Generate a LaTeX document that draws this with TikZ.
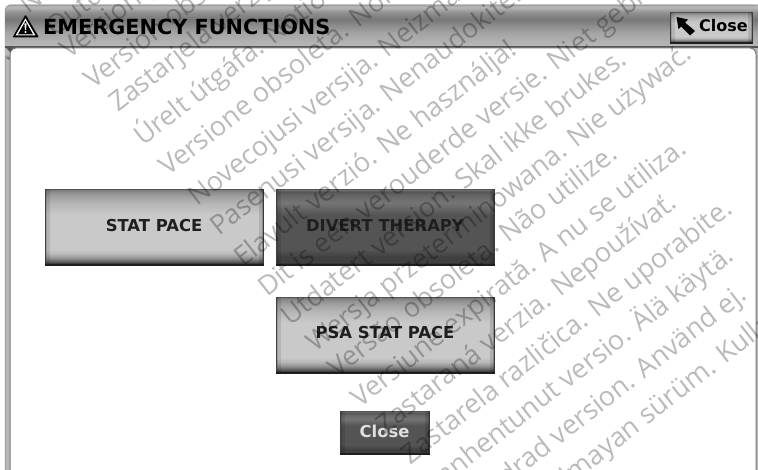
\documentclass[tikz,border=0pt]{standalone}
\usepackage{fontspec}
\setmainfont{DejaVu Sans}
\newfontfamily\wmfont{Open Sans}
\usetikzlibrary{arrows.meta}
\definecolor{ga}{gray}{0.12}
\definecolor{gb}{gray}{0.33}
\definecolor{gc}{gray}{0.47}
\definecolor{gd}{gray}{0.56}
\definecolor{ge}{gray}{0.64}
\definecolor{gf}{gray}{0.72}
\definecolor{gg}{gray}{0.79}
\definecolor{gh}{gray}{0.83}
\definecolor{da}{gray}{0.16}
\definecolor{db}{gray}{0.25}
\definecolor{dc}{gray}{0.33}
\definecolor{dd}{gray}{0.40}
\definecolor{de}{gray}{0.46}
\pgfdeclareverticalshading{btnlight}{100bp}{color(0bp)=(ga);color(25bp)=(ga);color(26.5bp)=(gb);color(29bp)=(gd);color(32bp)=(gf);color(35bp)=(gg);color(58bp)=(gg);color(65bp)=(gf);color(70bp)=(ge);color(73bp)=(gd);color(75bp)=(gc);color(100bp)=(gc)}
\pgfdeclareverticalshading{btndark}{100bp}{color(0bp)=(da);color(25bp)=(da);color(26.5bp)=(db);color(30bp)=(db);color(35bp)=(dc);color(58bp)=(dc);color(66bp)=(de);color(71bp)=(dd);color(73.5bp)=(dc);color(75bp)=(gc);color(100bp)=(gc)}
\pgfdeclareverticalshading{titlebar}{100bp}{color(0bp)=(gb);color(25bp)=(gb);color(27bp)=(gc);color(30bp)=(gf);color(38bp)=(gf);color(50bp)=(ge);color(62bp)=(gc);color(68bp)=(gd);color(73bp)=(gf);color(75bp)=(ge);color(100bp)=(ge)}
\tikzset{
  uibtn/.style={draw=gb,line width=0.8pt,rectangle,minimum width=#1,inner sep=0pt,font=\bfseries},
  lightbtn/.style={shading=btnlight,shading angle=0,text=black},
  darkbtn/.style={shading=btndark,shading angle=0},
  btnlabel/.style={font=\bfseries\fontsize{16.4}{16.4}\selectfont,text=black!88},
  wm/.style={anchor=base west,rotate=38,font=\wmfont\fontsize{27}{27}\selectfont,text=black,text opacity=0.27,inner sep=0pt,outer sep=0pt},
}
\begin{document}
\begin{tikzpicture}[x=1pt,y=-1pt]
\useasboundingbox (0,0) rectangle (758,470);
\clip (0,0) rectangle (758,470);
\fill[white] (0,0) rectangle (758,470);
% window frame
\fill[gf,draw=gc,line width=0.5pt,rounded corners=5pt] (5,5) rectangle (764,480);
\shade[shading=titlebar,shading angle=0,rounded corners=5pt] (5,5) rectangle (758,60);
\fill[gb] (5,46) rectangle (758,48.5);
\fill[white,draw=gc,line width=1pt,rounded corners=6pt] (10,48) rectangle (756,480);
\fill[gb] (5,46.5) -- (14,46.5) -- (10,52) -- cycle;
% title
\node[anchor=west,inner sep=0pt,font=\bfseries\fontsize{20.8}{20.8}\selectfont,text=black] (title) at (43,27) {EMERGENCY FUNCTIONS};
% warning icon
\node[inner sep=0pt] (warn) at (25.5,27) {};
\fill[black,rounded corners=1pt] (25.5,14.5) -- (39,37.5) -- (12.5,37.5) -- cycle;
\fill[white] (25.5,18.5) -- (35.5,35.5) -- (15.5,35.5) -- cycle;
\fill[black] (25.5,21) -- (33,34.3) -- (18,34.3) -- cycle;
\fill[white] (24.4,23.5) -- (26.6,23.5) -- (26,30) -- (25,30) -- cycle;
\fill[white] (25.5,32) circle (1.2);
% top close button
\node[uibtn=82pt,lightbtn,minimum height=30pt,anchor=north west] (closetop) at (670,12) {};
\node[anchor=west,inner sep=0pt,font=\bfseries\fontsize{16}{16}\selectfont] (closetoplabel) at (699,26) {Close};
\fill[black] (676.5,17) -- (688,19.5) -- (685,22.5) -- (695,31) -- (690,35.5) -- (681,26.5) -- (678.5,29) -- cycle;
% buttons
\node[uibtn=218pt,lightbtn,minimum height=75pt,anchor=north west] (stat) at (45,189) {};
\node[uibtn=218pt,darkbtn,minimum height=75pt,anchor=north west] (divert) at (276,189) {};
\node[uibtn=218pt,lightbtn,minimum height=75pt,anchor=north west] (psa) at (276,297) {};
\node[uibtn=89pt,darkbtn,minimum height=42pt,anchor=north west] (closeb) at (340,411) {};
% bevels
\foreach \n in {stat,divert,psa,closeb,closetop}{
  \fill[black,opacity=.22] (\n.north west) rectangle ([xshift=2pt]\n.south west);
  \fill[black,opacity=.10] ([xshift=2pt]\n.north west) rectangle ([xshift=4.5pt]\n.south west);
  \fill[black,opacity=.30] (\n.north east) rectangle ([xshift=-2pt]\n.south east);
  \fill[black,opacity=.12] ([xshift=-2pt]\n.north east) rectangle ([xshift=-5pt]\n.south east);
  \draw[ga,line width=1.8pt] (\n.south west) -- (\n.south east);
}
\node[btnlabel] (statl) at (154,226) {STAT PACE};
\node[btnlabel] (divertl) at (385,226) {DIVERT THERAPY};
\node[btnlabel] (psal) at (385,333) {PSA STAT PACE};
\node[btnlabel,text=white!88!black] (closel) at (384.5,431) {Close};
% watermark
\node[wm] (w0) at (28,15) {Nicht verwenden.};
\node[wm] (w1) at (55,38) {Outdated version. Do not use.};
\node[wm] (w2) at (69,60) {Version périmée. Ne pas utiliser.};
\node[wm] (w3) at (93,90) {Versión obsoleta. No utilizar.};
\node[wm] (w4) at (118,113) {Zastarjela verzija. Nemojte upotrebljavati.};
\node[wm] (w5) at (143,147) {Úrelt útgáfa. Notið ekki.};
\node[wm] (w6) at (168,177) {Versione obsoleta. Non utilizzare.};
\node[wm] (w7) at (197,207) {Novecojusi versija. Neizmantot.};
\node[wm] (w8) at (219,237) {Pasenusi versija. Nenaudokite.};
\node[wm] (w9) at (243,268) {Elavult verzió. Ne használja!};
\node[wm] (w10) at (267,298) {Dit is een verouderde versie. Niet gebruiken.};
\node[wm] (w11) at (290,327) {Utdatert versjon. Skal ikke brukes.};
\node[wm] (w12) at (315,353) {Wersja przeterminowana. Nie używać.};
\node[wm] (w13) at (337,378) {Versão obsoleta. Não utilize.};
\node[wm] (w14) at (360,408) {Versiune expirată. A nu se utiliza.};
\node[wm] (w15) at (385,435) {Zastaraná verzia. Nepoužívať.};
\node[wm] (w16) at (410,465) {Zastarela različica. Ne uporabite.};
\node[wm] (w17) at (433,495) {Vanhentunut versio. Älä käytä.};
\node[wm] (w18) at (458,525) {Föråldrad version. Använd ej.};
\node[wm] (w19) at (482,555) {Güncel olmayan sürüm. Kullanmayın.};
\end{tikzpicture}
\end{document}
